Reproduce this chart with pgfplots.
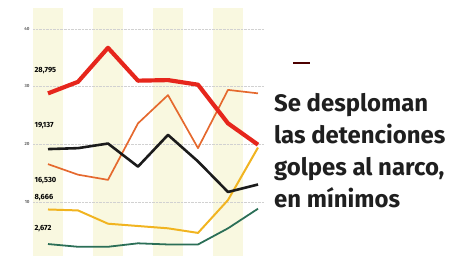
\documentclass[border=0pt]{standalone}
\usepackage{pgfplots}
\pgfplotsset{compat=1.18}
\usepackage{fontspec}
\setmainfont{Fira Sans}
\definecolor{band}{HTML}{F9F8E0}
\definecolor{cred}{HTML}{E6261C}
\definecolor{corange}{HTML}{E5692E}
\definecolor{cblack}{HTML}{1B1B1B}
\definecolor{cyellow}{HTML}{F1B420}
\definecolor{cgreen}{HTML}{2B6F57}
\begin{document}
\begin{tikzpicture}
\begin{axis}[at={(0,0)}, anchor=south west, scale only axis,
  width=231bp, height=248bp,
  xmin=-0.5, xmax=7.2, ymin=0.6, ymax=43.6,
  axis line style={draw=none}, xtick=\empty,
  ytick={10,20,30,40}, yticklabels={10,20,30,40},
  major tick length=0pt,
  yticklabel style={font=\fontsize{4.5}{5}\selectfont\bfseries, text=black!60},
  ymajorgrids, grid style={black!18, densely dotted},
  set layers, clip=false]
\addplot[on layer=axis background, draw=none, fill=band] coordinates {(-0.5,0.6) (-0.5,43.6) (0.5,43.6) (0.5,0.6)} -- cycle;
\addplot[on layer=axis background, draw=none, fill=band] coordinates {(1.5,0.6) (1.5,43.6) (2.5,43.6) (2.5,0.6)} -- cycle;
\addplot[on layer=axis background, draw=none, fill=band] coordinates {(3.5,0.6) (3.5,43.6) (4.5,43.6) (4.5,0.6)} -- cycle;
\addplot[on layer=axis background, draw=none, fill=band] coordinates {(5.5,0.6) (5.5,43.6) (6.5,43.6) (6.5,0.6)} -- cycle;
% green
\addplot[cgreen, line width=1.8pt, line join=round] coordinates {(0,2.672) (1,2.2) (2,2.2) (3,2.8) (4,2.6) (5,2.6) (6,5.4) (7,8.8)};
% yellow
\addplot[cyellow, line width=2pt, line join=round] coordinates {(0,8.666) (1,8.5) (2,6.2) (3,5.8) (4,5.4) (5,4.6) (6,10.3) (7,19.4)};
% orange
\addplot[corange, line width=1.7pt, line join=round] coordinates {(0,16.53) (1,14.7) (2,13.8) (3,23.6) (4,28.5) (5,19.3) (6,29.4) (7,28.8)};
% black
\addplot[cblack, line width=2.6pt, line join=round] coordinates {(0,19.137) (1,19.3) (2,20.1) (3,16.1) (4,21.6) (5,17.0) (6,11.7) (7,13.0)};
% red
\addplot[cred, line width=4.2pt, line join=round] coordinates {(0,28.795) (1,30.8) (2,36.7) (3,31.0) (4,31.1) (5,30.3) (6,23.6) (7,19.9)};
\begin{scope}[every node/.style={font=\fontsize{7.5}{8}\selectfont\bfseries, anchor=west, inner sep=0.5pt, text=black}]
\node at (axis cs:-0.47,32.7) {28,795};
\node at (axis cs:-0.47,23.2) {19,137};
\node at (axis cs:-0.47,13.6) {16,530};
\node at (axis cs:-0.47,10.7) {8,666};
\node at (axis cs:-0.47,5.3) {2,672};
\end{scope}
\end{axis}
\draw[black!70!red, line width=1.3pt] (260bp,193bp) -- (277bp,193bp);
\begin{scope}[every node/.style={font=\fontsize{24}{26}\selectfont\bfseries, anchor=base west, inner sep=0pt, text=black!88}]
\node at (241bp,144bp) {Se desploman};
\node at (241bp,112bp) {las detenciones};
\node at (241bp,80bp) {golpes al narco,};
\node at (241bp,48bp) {en mínimos};
\end{scope}
\pgfresetboundingbox
\path[use as bounding box] (-33bp,0) rectangle (418bp,256bp);
\end{tikzpicture}
\end{document}
